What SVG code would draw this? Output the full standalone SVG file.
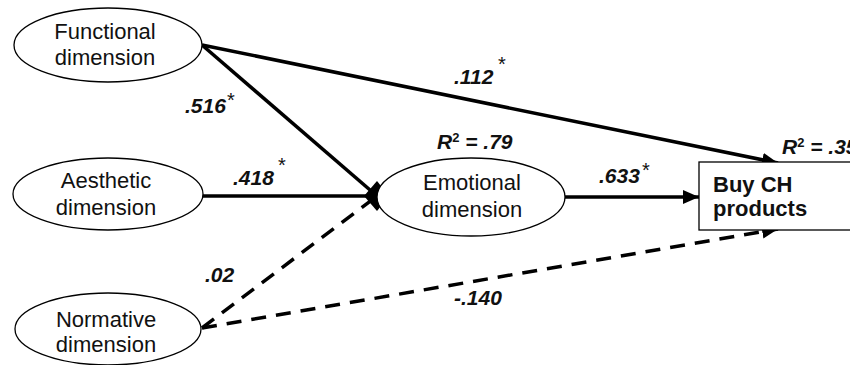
<svg xmlns="http://www.w3.org/2000/svg" width="850" height="365" viewBox="0 0 850 365">
<defs>
<marker id="ah" markerUnits="userSpaceOnUse" markerWidth="18" markerHeight="14" refX="16" refY="7" orient="auto" viewBox="0 0 18 14">
<path d="M0,0 L16,7 L0,14 Z" fill="#000"/>
</marker>
<style>
.node{fill:#fff;stroke:#000;stroke-width:1.3}
.nt{font-family:"Liberation Sans",Arial,sans-serif;font-size:22px;fill:#111;text-anchor:middle}
.bt{font-family:"Liberation Sans",Arial,sans-serif;font-size:22px;font-weight:bold;fill:#111}
.lb{font-family:"Liberation Sans",Arial,sans-serif;font-size:21px;font-weight:bold;font-style:italic;fill:#111}
.st{font-family:"Liberation Sans",Arial,sans-serif;font-size:20px;fill:#111}
.sup{font-size:13px;font-style:normal}
.c{fill:none;stroke:#000;stroke-width:3.5}
.d{stroke-dasharray:15 10}
</style>
</defs>
<g id="connectors">
<line class="c" x1="202" y1="45" x2="778" y2="163" stroke-width="4" marker-end="url(#ah)"/>
<line class="c" x1="202" y1="45" x2="377" y2="196"/>
<line class="c" x1="202" y1="196" x2="377" y2="196"/>
<line class="c d" x1="202" y1="328" x2="377" y2="196"/>
<polygon points="364,196 377,181 389,196 377,211" fill="#000"/>
<line class="c d" x1="202" y1="328" x2="778" y2="229" marker-end="url(#ah)"/>
<line class="c" x1="565" y1="197" x2="699" y2="197" marker-end="url(#ah)"/>
</g>
<g id="functional">
<ellipse class="node" cx="108" cy="45" rx="94" ry="37"/>
<text class="nt" x="105" y="39">Functional</text>
<text class="nt" x="105" y="65">dimension</text>
</g>
<g id="aesthetic">
<ellipse class="node" cx="108" cy="194" rx="95" ry="36"/>
<text class="nt" x="106" y="188">Aesthetic</text>
<text class="nt" x="106" y="215">dimension</text>
</g>
<g id="normative">
<ellipse class="node" cx="108" cy="329" rx="93" ry="36"/>
<text class="nt" x="106" y="327">Normative</text>
<text class="nt" x="106" y="352">dimension</text>
</g>
<g id="emotional">
<ellipse class="node" cx="471" cy="197" rx="94" ry="39"/>
<text class="nt" x="472" y="190">Emotional</text>
<text class="nt" x="472" y="217">dimension</text>
</g>
<g id="buy">
<rect class="node" x="699" y="162" width="170" height="68"/>
<text class="bt" x="713" y="192">Buy CH</text>
<text class="bt" x="713" y="216">products</text>
</g>
<g id="labels">
<text class="lb" x="185" y="113">.516</text><text class="st" x="227" y="107">*</text>
<text class="lb" x="233" y="185">.418</text><text class="st" x="278" y="172">*</text>
<text class="lb" x="454" y="84">.112</text><text class="st" x="498" y="71">*</text>
<text class="lb" x="599" y="183">.633</text><text class="st" x="642" y="177">*</text>
<text class="lb" x="205" y="282">.02</text>
<text class="lb" x="454" y="305">-.140</text>
<text class="lb" x="437" y="149">R<tspan class="sup" dy="-7">2</tspan><tspan dy="7"> = .79</tspan></text>
<text class="lb" x="782" y="154">R<tspan class="sup" dy="-7">2</tspan><tspan dy="7"> = .35</tspan></text>
</g>
</svg>
